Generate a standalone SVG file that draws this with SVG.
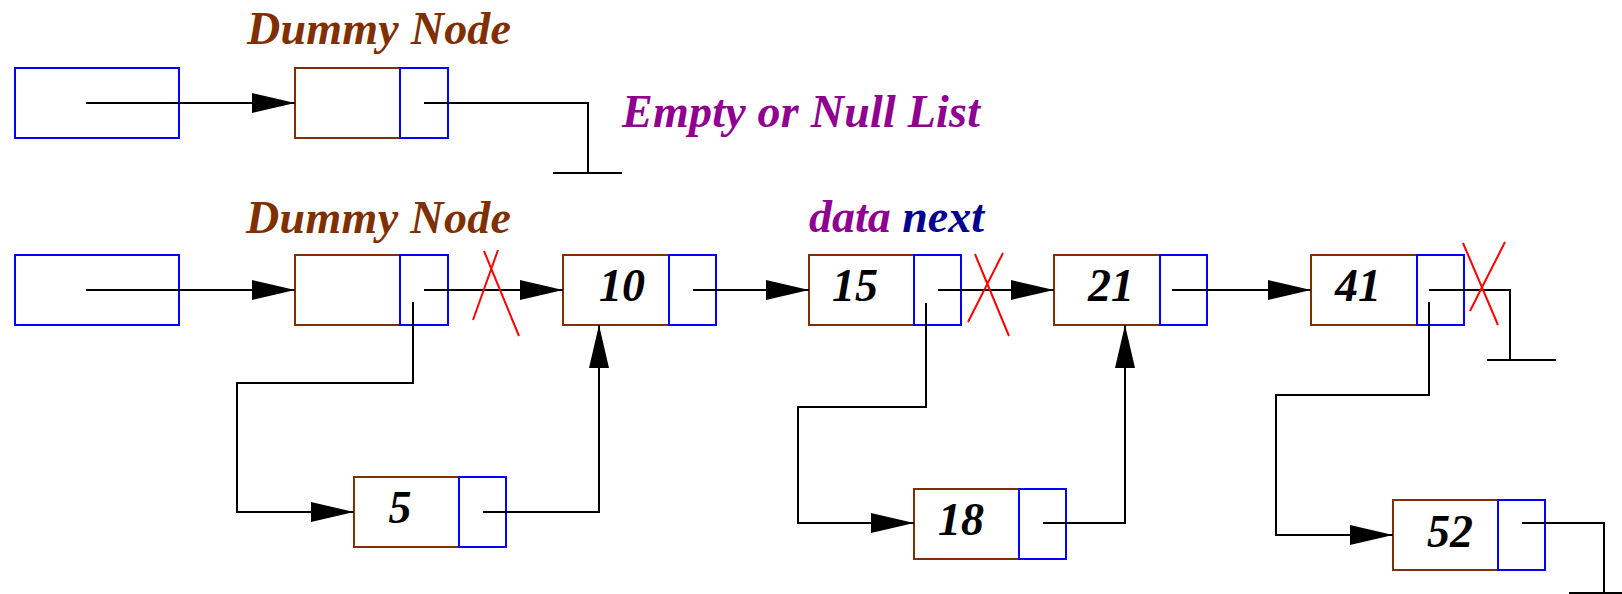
<svg xmlns="http://www.w3.org/2000/svg" width="1622" height="594" viewBox="0 0 1622 594">
<style>
.bg{fill:#ffffff}
.data{fill:none;stroke:#803000;stroke-width:2}
.ptr{fill:none;stroke:#0000ff;stroke-width:2}
.ln{fill:none;stroke:#000000;stroke-width:2}
.arr{fill:none;stroke:#000000;stroke-width:2;marker-end:url(#ah)}
.x{fill:none;stroke:#ff0000;stroke-width:2}
.lbl{font-family:"Liberation Serif","Times New Roman",serif;font-weight:bold;font-style:italic;font-size:46px}
.num{font-family:"Liberation Serif","Times New Roman",serif;font-weight:bold;font-style:italic;font-size:46px;fill:#000000;text-anchor:middle}
</style>
<defs>
<marker id="ah" markerUnits="userSpaceOnUse" markerWidth="44" markerHeight="22" refX="43" refY="10" orient="auto">
<path d="M0,0 L43,10 L0,20 Z" fill="#000000"/>
</marker>
</defs>
<rect class="bg" x="0" y="0" width="1622" height="594"/>
<g id="labels">
<text class="lbl" x="247" y="44" fill="#803000" textLength="264">Dummy Node</text>
<text class="lbl" x="622" y="127" fill="#900090" textLength="358">Empty or Null List</text>
<text class="lbl" x="246" y="233" fill="#803000" textLength="265">Dummy Node</text>
<text class="lbl" x="809" y="232"><tspan fill="#900090">data</tspan> <tspan fill="#000090">next</tspan></text>
</g>
<g id="head1"><rect class="ptr" x="15" y="68" width="164" height="70"/></g>
<g id="dummy1"><rect class="data" x="295" y="68" width="105" height="70"/><rect class="ptr" x="400" y="68" width="48" height="70"/></g>
<g id="head2"><rect class="ptr" x="15" y="255" width="164" height="70"/></g>
<g id="dummy2"><rect class="data" x="295" y="255" width="105" height="70"/><rect class="ptr" x="400" y="255" width="48" height="70"/></g>
<g id="n10"><rect class="data" x="563" y="255" width="106" height="70"/><rect class="ptr" x="669" y="255" width="47" height="70"/><text class="num" x="622" y="301">10</text></g>
<g id="n15"><rect class="data" x="809" y="255" width="105" height="70"/><rect class="ptr" x="914" y="255" width="47" height="70"/><text class="num" x="855" y="301">15</text></g>
<g id="n21"><rect class="data" x="1054" y="255" width="106" height="70"/><rect class="ptr" x="1160" y="255" width="47" height="70"/><text class="num" x="1111" y="301">21</text></g>
<g id="n41"><rect class="data" x="1311" y="255" width="106" height="70"/><rect class="ptr" x="1417" y="255" width="47" height="70"/><text class="num" x="1358" y="301">41</text></g>
<g id="n5"><rect class="data" x="354" y="477" width="105" height="70"/><rect class="ptr" x="459" y="477" width="47" height="70"/><text class="num" x="400" y="523">5</text></g>
<g id="n18"><rect class="data" x="914" y="489" width="105" height="70"/><rect class="ptr" x="1019" y="489" width="47" height="70"/><text class="num" x="961" y="535">18</text></g>
<g id="n52"><rect class="data" x="1393" y="500" width="105" height="70"/><rect class="ptr" x="1498" y="500" width="47" height="70"/><text class="num" x="1450" y="547">52</text></g>
<g id="connectors">
<path class="arr" d="M86,103 H295"/>
<path class="ln" d="M424,103 H588 V173"/>
<path class="ln" d="M553,173 H622"/>
<path class="arr" d="M86,290 H295"/>
<path class="arr" d="M424,290 H563"/>
<path class="arr" d="M413,302 V383 H237 V512 H354"/>
<path class="arr" d="M483,512 H599 V325"/>
<path class="arr" d="M693,290 H809"/>
<path class="arr" d="M938,290 H1054"/>
<path class="arr" d="M926,303 V407 H798 V523 H914"/>
<path class="arr" d="M1043,523 H1125 V325"/>
<path class="arr" d="M1172,290 H1311"/>
<path class="ln" d="M1429,290 H1510 V360"/>
<path class="ln" d="M1487,360 H1556"/>
<path class="arr" d="M1429,302 V395 H1276 V535 H1393"/>
<path class="ln" d="M1522,523 H1604 V593"/>
<path class="ln" d="M1569,593 H1640"/>
</g>
<g id="cuts">
<path class="x" d="M484,251 L519,336 M498,250 L473,320"/>
<path class="x" d="M975,254 L1009,336 M1003,253 L968,322"/>
<path class="x" d="M1463,243 L1498,325 M1505,242 L1470,311"/>
</g>
</svg>
